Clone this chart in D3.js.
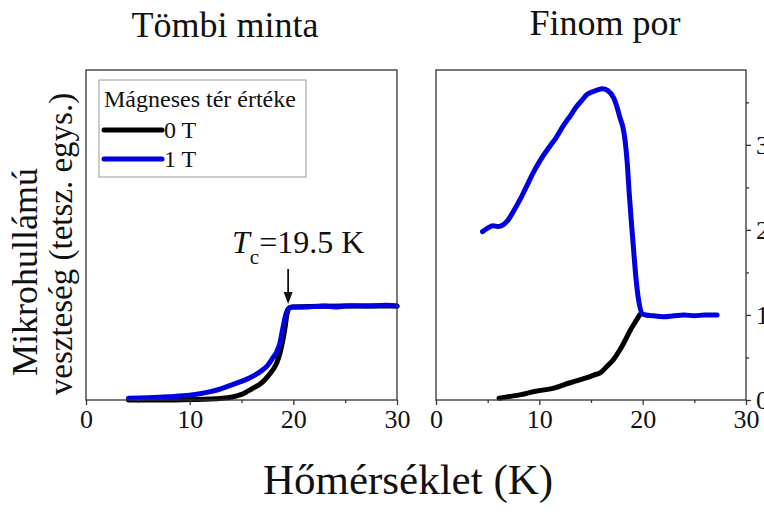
<!DOCTYPE html>
<html>
<head>
<meta charset="utf-8">
<script src="https://cdn.jsdelivr.net/npm/d3@7"></script>
<style>
  body { margin: 0; background: #fff; }
  text { font-family: "Liberation Serif", "Times New Roman", serif; fill: #111; }
</style>
</head>
<body>
<div id="chart"></div>
<script>
// Bulk sample (Tömbi minta), 0 T and 1 T
var bulkT_0 = [4.1, 8, 10, 12, 14, 15, 16, 17, 17.5, 18, 18.4, 18.7, 19, 19.2, 19.4, 19.6, 20, 25, 30];
var bulkV_0 = [0.0, 0.0, 0.005, 0.01, 0.03, 0.06, 0.12, 0.19, 0.25, 0.32, 0.4, 0.5, 0.65, 0.78, 0.93, 0.99, 1.0, 1.01, 1.01];
var bulkT_1 = [4.1, 6, 8, 10, 12, 13, 14, 15, 16, 17, 17.5, 18, 18.4, 18.7, 19, 19.3, 19.6, 20, 21, 22, 23, 24, 25, 26, 27, 28, 29, 30];
var bulkV_1 = [0.02, 0.025, 0.035, 0.05, 0.09, 0.12, 0.16, 0.2, 0.25, 0.32, 0.37, 0.45, 0.52, 0.61, 0.78, 0.93, 0.99, 1.0, 1.0, 1.005, 1.01, 1.0, 1.01, 1.015, 1.01, 1.015, 1.02, 1.01];

// Fine powder (Finom por), 0 T and 1 T
var powT_0 = [6.1, 7, 8.1, 9.5, 11.4, 12.9, 14, 15.2, 16, 16.5, 17.2, 17.8, 18.3, 18.8, 19.3, 19.7];
var powV_0 = [0.02, 0.04, 0.06, 0.1, 0.14, 0.2, 0.24, 0.29, 0.33, 0.39, 0.48, 0.59, 0.7, 0.82, 0.92, 1.0];
var powT_1 = [4.5, 5.0, 5.5, 6.0, 6.5, 7.0, 7.5, 8.1, 8.8, 9.4, 10.1, 11.0, 11.6, 12.4, 13.0, 13.6, 14.1, 14.6, 15.3, 16.1, 16.6, 17.2, 17.5, 17.8, 18.1, 18.3, 18.5, 18.7, 18.9, 19.1, 19.3, 19.6, 20.0, 20.3, 21, 22, 23, 24, 25, 26, 27.2];
var powV_1 = [1.98, 2.02, 2.05, 2.04, 2.06, 2.12, 2.22, 2.35, 2.52, 2.67, 2.82, 2.98, 3.08, 3.24, 3.34, 3.45, 3.52, 3.59, 3.63, 3.66, 3.64, 3.55, 3.45, 3.32, 3.2, 3.05, 2.8, 2.43, 2.1, 1.8, 1.5, 1.18, 1.01, 1.0, 0.99, 0.98, 0.99, 1.0, 0.99, 1.0, 1.0];

var xTicks = [0, 10, 20, 30];
var xMinor = [5, 15, 25];
var yTicksRight = [0, 1, 2, 3];
var yMinorRight = [0.5, 1.5, 2.5, 3.5];

var legendTitle = "Mágneses tér értéke";
var seriesNames = ["0 T", "1 T"];
var colors = ["#000000", "#0000e0"];

var W = 764, H = 512;
var plotTop = 70, plotBottom = 400;

var svg = d3.select("#chart").append("svg")
    .attr("width", W).attr("height", H);

var x1 = d3.scaleLinear().domain([0, 30]).range([86, 397]);
var y1 = d3.scaleLinear().domain([0, 3.55]).range([plotBottom, plotTop]);
var x2 = d3.scaleLinear().domain([0, 30]).range([436, 746]);
var y2 = d3.scaleLinear().domain([0, 3.88]).range([plotBottom, plotTop]);

function zip(ts, vs) { return ts.map(function (t, i) { return [t, vs[i]]; }); }

function styleTicks(sel) {
    sel.select(".domain").remove();
    sel.selectAll(".tick line").attr("stroke", "#333").attr("stroke-width", 1.3);
    sel.selectAll("text")
        .style("font-family", "'Liberation Serif', serif")
        .style("font-size", "26px")
        .attr("fill", "#111");
}

function panel(x, y, series, rightAxis) {
    var g = svg.append("g");
    var line = d3.line()
        .x(function (d) { return x(d[0]); })
        .y(function (d) { return y(d[1]); })
        .curve(d3.curveMonotoneX);

    series.forEach(function (s, i) {
        g.append("path")
            .attr("d", line(s))
            .attr("fill", "none")
            .attr("stroke", colors[i])
            .attr("stroke-width", 5)
            .attr("stroke-linecap", "round")
            .attr("stroke-linejoin", "round");
    });

    // frame
    g.append("rect")
        .attr("x", x.range()[0]).attr("y", plotTop)
        .attr("width", x.range()[1] - x.range()[0]).attr("height", plotBottom - plotTop)
        .attr("fill", "none").attr("stroke", "#333").attr("stroke-width", 1.3);

    // bottom axis, major + minor ticks
    styleTicks(g.append("g").attr("transform", "translate(0," + plotBottom + ")")
        .call(d3.axisBottom(x).tickValues(xTicks).tickSize(5).tickPadding(5).tickFormat(d3.format("d"))));
    styleTicks(g.append("g").attr("transform", "translate(0," + plotBottom + ")")
        .call(d3.axisBottom(x).tickValues(xMinor).tickSize(3).tickFormat("")));

    if (rightAxis) {
        styleTicks(g.append("g").attr("transform", "translate(" + x.range()[1] + ",0)")
            .call(d3.axisRight(y).tickValues(yTicksRight).tickSize(5).tickPadding(5).tickFormat(d3.format("d"))));
        styleTicks(g.append("g").attr("transform", "translate(" + x.range()[1] + ",0)")
            .call(d3.axisRight(y).tickValues(yMinorRight).tickSize(3).tickFormat("")));
    }
    return g;
}

panel(x1, y1, [zip(bulkT_0, bulkV_0), zip(bulkT_1, bulkV_1)], false);
panel(x2, y2, [zip(powT_0, powV_0), zip(powT_1, powV_1)], true);

// panel titles
svg.append("text").attr("x", 225).attr("y", 37).attr("text-anchor", "middle")
    .style("font-size", "36px").text("Tömbi minta");
svg.append("text").attr("x", 605).attr("y", 35).attr("text-anchor", "middle")
    .style("font-size", "36px").text("Finom por");

// axis titles
svg.append("text").attr("x", 408).attr("y", 494).attr("text-anchor", "middle")
    .style("font-size", "43px").text("Hőmérséklet (K)");
svg.append("text").attr("transform", "translate(37,272) rotate(-90)")
    .attr("text-anchor", "middle").style("font-size", "36px").text("Mikrohullámú");
svg.append("text").attr("transform", "translate(72,244) rotate(-90)")
    .attr("text-anchor", "middle").style("font-size", "33px").text("veszteség (tetsz. egys.)");

// legend
var lg = svg.append("g");
lg.append("rect").attr("x", 99).attr("y", 80).attr("width", 207).attr("height", 97)
    .attr("fill", "#fff").attr("stroke", "#999").attr("stroke-width", 1);
lg.append("text").attr("x", 104).attr("y", 107).style("font-size", "24px").text(legendTitle);
seriesNames.forEach(function (n, i) {
    var yy = 130 + i * 29;
    lg.append("line").attr("x1", 104).attr("x2", 162).attr("y1", yy).attr("y2", yy)
        .attr("stroke", colors[i]).attr("stroke-width", 5).attr("stroke-linecap", "round");
    lg.append("text").attr("x", 164).attr("y", yy + 8).style("font-size", "24px").text(n);
});

// Tc annotation
var tc = svg.append("text").attr("x", 232).attr("y", 253).style("font-size", "32px");
tc.append("tspan").style("font-style", "italic").text("T");
tc.append("tspan").attr("dy", 11).style("font-size", "21px").text("c");
tc.append("tspan").attr("dy", -11).text("=19.5 K");

var ax0 = x1(19.5);
svg.append("line").attr("x1", ax0).attr("x2", ax0).attr("y1", 269).attr("y2", 294)
    .attr("stroke", "#111").attr("stroke-width", 1.8);
svg.append("path")
    .attr("d", "M" + (ax0 - 4.5) + ",292 L" + (ax0 + 4.5) + ",292 L" + ax0 + ",304 Z")
    .attr("fill", "#111");
</script>
</body>
</html>
